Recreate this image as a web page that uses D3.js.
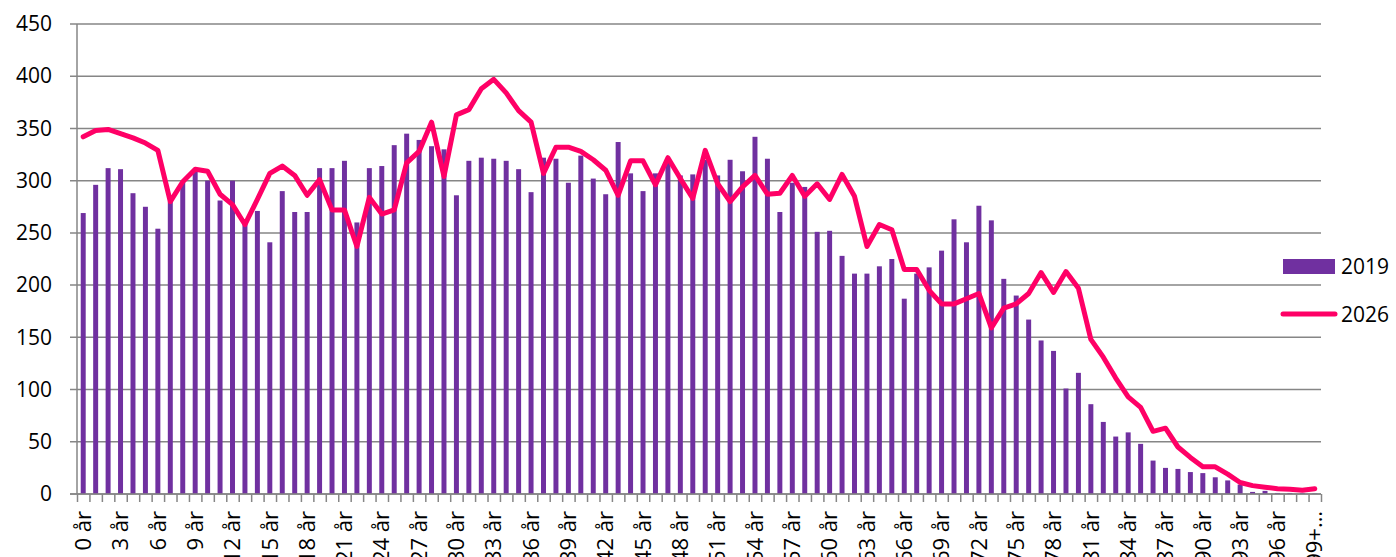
<!DOCTYPE html>
<meta charset="utf-8" />
<style>
  body { margin: 0; background: #fff; }
  svg { display: block; font-family: "Open Sans", sans-serif; }
</style>
<body>
<div id="chart"></div>
<script src="https://cdn.jsdelivr.net/npm/d3@7"></script>
<script>
  // kategorier: 0 år .. 98 år, 99+ år
  var alder = d3.range(0, 99).map(function (i) { return i + " år"; }).concat(["99+ år"]);

  var aar2019 = [
    269, 296, 312, 311, 288, 275, 254, 280, 299, 309,
    300, 281, 300, 260, 271, 241, 290, 270, 270, 312,
    312, 319, 260, 312, 314, 334, 345, 339, 333, 330,
    286, 319, 322, 321, 319, 311, 289, 322, 321, 298,
    324, 302, 287, 337, 307, 290, 307, 317, 305, 306,
    320, 305, 320, 309, 342, 321, 270, 298, 294, 251,
    252, 228, 211, 211, 218, 225, 187, 211, 217, 233,
    263, 241, 276, 262, 206, 190, 167, 147, 137, 101,
    116, 86, 69, 55, 59, 48, 32, 25, 24, 21,
    20, 16, 13, 9, 2, 3, 1, 1, 1, 0.5
  ];

  var aar2026 = [
    342, 348, 349, 345, 341, 336, 329, 280, 299, 311,
    309, 287, 277, 258, 282, 307, 314, 305, 286, 301,
    272, 272, 237, 284, 268, 272, 317, 328, 356, 304,
    363, 368, 388, 397, 384, 367, 356, 307, 332, 332,
    328, 320, 310, 286, 319, 319, 296, 322, 302, 283,
    329, 297, 280, 294, 305, 287, 288, 305, 285, 297,
    282, 306, 285, 237, 258, 253, 215, 215, 195, 182,
    182, 187, 192, 159, 178, 182, 192, 212, 193, 213,
    197, 148, 131, 111, 93, 83, 60, 63, 45, 35,
    26, 26, 19, 11, 8, 6.5, 5, 4.5, 3.5, 5
  ];

  var yTicks = d3.range(0, 451, 50);
  var serier = ["2019", "2026"];

  var bredde = 1396, hoyde = 557;
  var margin = { top: 24, left: 77 };
  var plotW = 1244, plotH = 470;

  var svg = d3.select("#chart").append("svg")
    .attr("width", bredde)
    .attr("height", hoyde);

  var g = svg.append("g")
    .attr("transform", "translate(" + margin.left + "," + margin.top + ")");

  var x = d3.scaleBand().domain(alder).range([0, plotW]).paddingInner(0.6).paddingOuter(0.3);
  var xPos = d3.scaleLinear().domain([0, alder.length]).range([0, plotW]);
  var y = d3.scaleLinear().domain([0, 450]).range([plotH, 0]);

  // gitterlinjer
  g.selectAll(".grid")
    .data(yTicks)
    .enter()
    .append("line")
    .attr("class", "grid")
    .attr("x1", -7)
    .attr("x2", plotW)
    .attr("y1", function (d) { return y(d); })
    .attr("y2", function (d) { return y(d); })
    .attr("stroke", "#868686")
    .attr("stroke-width", 1.5);

  // y-akse
  var yAxis = g.append("g")
    .call(d3.axisLeft(y).tickValues(yTicks).tickSize(0).tickPadding(25));
  yAxis.select(".domain").remove();
  yAxis.selectAll("text")
    .attr("font-size", "21px")
    .attr("fill", "#000")
    .attr("font-family", "Open Sans");

  g.append("line")
    .attr("x1", 0).attr("x2", 0)
    .attr("y1", 0).attr("y2", plotH)
    .attr("stroke", "#868686")
    .attr("stroke-width", 1.5);

  // x-akse streger
  var xTickAxis = g.append("g")
    .attr("transform", "translate(0," + plotH + ")")
    .call(d3.axisBottom(xPos).tickValues(d3.range(0, alder.length + 1)).tickSize(8).tickFormat(""));
  xTickAxis.select(".domain").remove();
  xTickAxis.selectAll("line").attr("stroke", "#868686").attr("stroke-width", 1.5);

  // søjler 2019
  g.selectAll(".barra")
    .data(aar2019)
    .enter()
    .append("rect")
    .attr("class", "barra")
    .attr("x", function (d, i) { return x(alder[i]); })
    .attr("width", x.bandwidth())
    .attr("y", function (d) { return y(d); })
    .attr("height", function (d) { return plotH - y(d); })
    .attr("fill", "#7030A0");

  g.append("line")
    .attr("x1", -7).attr("x2", plotW)
    .attr("y1", plotH).attr("y2", plotH)
    .attr("stroke", "#868686")
    .attr("stroke-width", 1.5);

  // x-akse etiketter (nederst beskåret som i originalen)
  var labelAxis = g.append("g")
    .attr("transform", "translate(0," + plotH + ")")
    .call(d3.axisBottom(x)
      .tickValues(alder.filter(function (d, i) { return i % 3 === 0; }))
      .tickSize(0)
      .tickFormat(function (d) { return d === "99+ år" ? "99+…" : d; }));
  labelAxis.select(".domain").remove();
  labelAxis.selectAll("text")
    .attr("transform", "rotate(-90)")
    .attr("text-anchor", "end")
    .attr("x", -17)
    .attr("y", 0)
    .attr("dy", "0.35em")
    .attr("font-size", "22px")
    .attr("fill", "#000")
    .attr("font-family", "Open Sans");

  // linje 2026
  var linje = d3.line()
    .x(function (d, i) { return x(alder[i]) + x.bandwidth() / 2; })
    .y(function (d) { return y(d); });

  g.append("path")
    .datum(aar2026)
    .attr("d", linje)
    .attr("fill", "none")
    .attr("stroke", "#FF0066")
    .attr("stroke-width", 5)
    .attr("stroke-linejoin", "round")
    .attr("stroke-linecap", "round");

  // legende
  var legende = svg.append("g").attr("transform", "translate(1283,0)");
  legende.append("rect")
    .attr("x", 0).attr("y", 259)
    .attr("width", 52).attr("height", 15)
    .attr("fill", "#7030A0");
  legende.append("text")
    .attr("x", 58).attr("y", 274)
    .attr("font-size", "21px")
    .text(serier[0]);
  legende.append("line")
    .attr("x1", 0).attr("x2", 52)
    .attr("y1", 314).attr("y2", 314)
    .attr("stroke", "#FF0066")
    .attr("stroke-width", 5)
    .attr("stroke-linecap", "round");
  legende.append("text")
    .attr("x", 58).attr("y", 322)
    .attr("font-size", "21px")
    .text(serier[1]);
</script>
</body>
